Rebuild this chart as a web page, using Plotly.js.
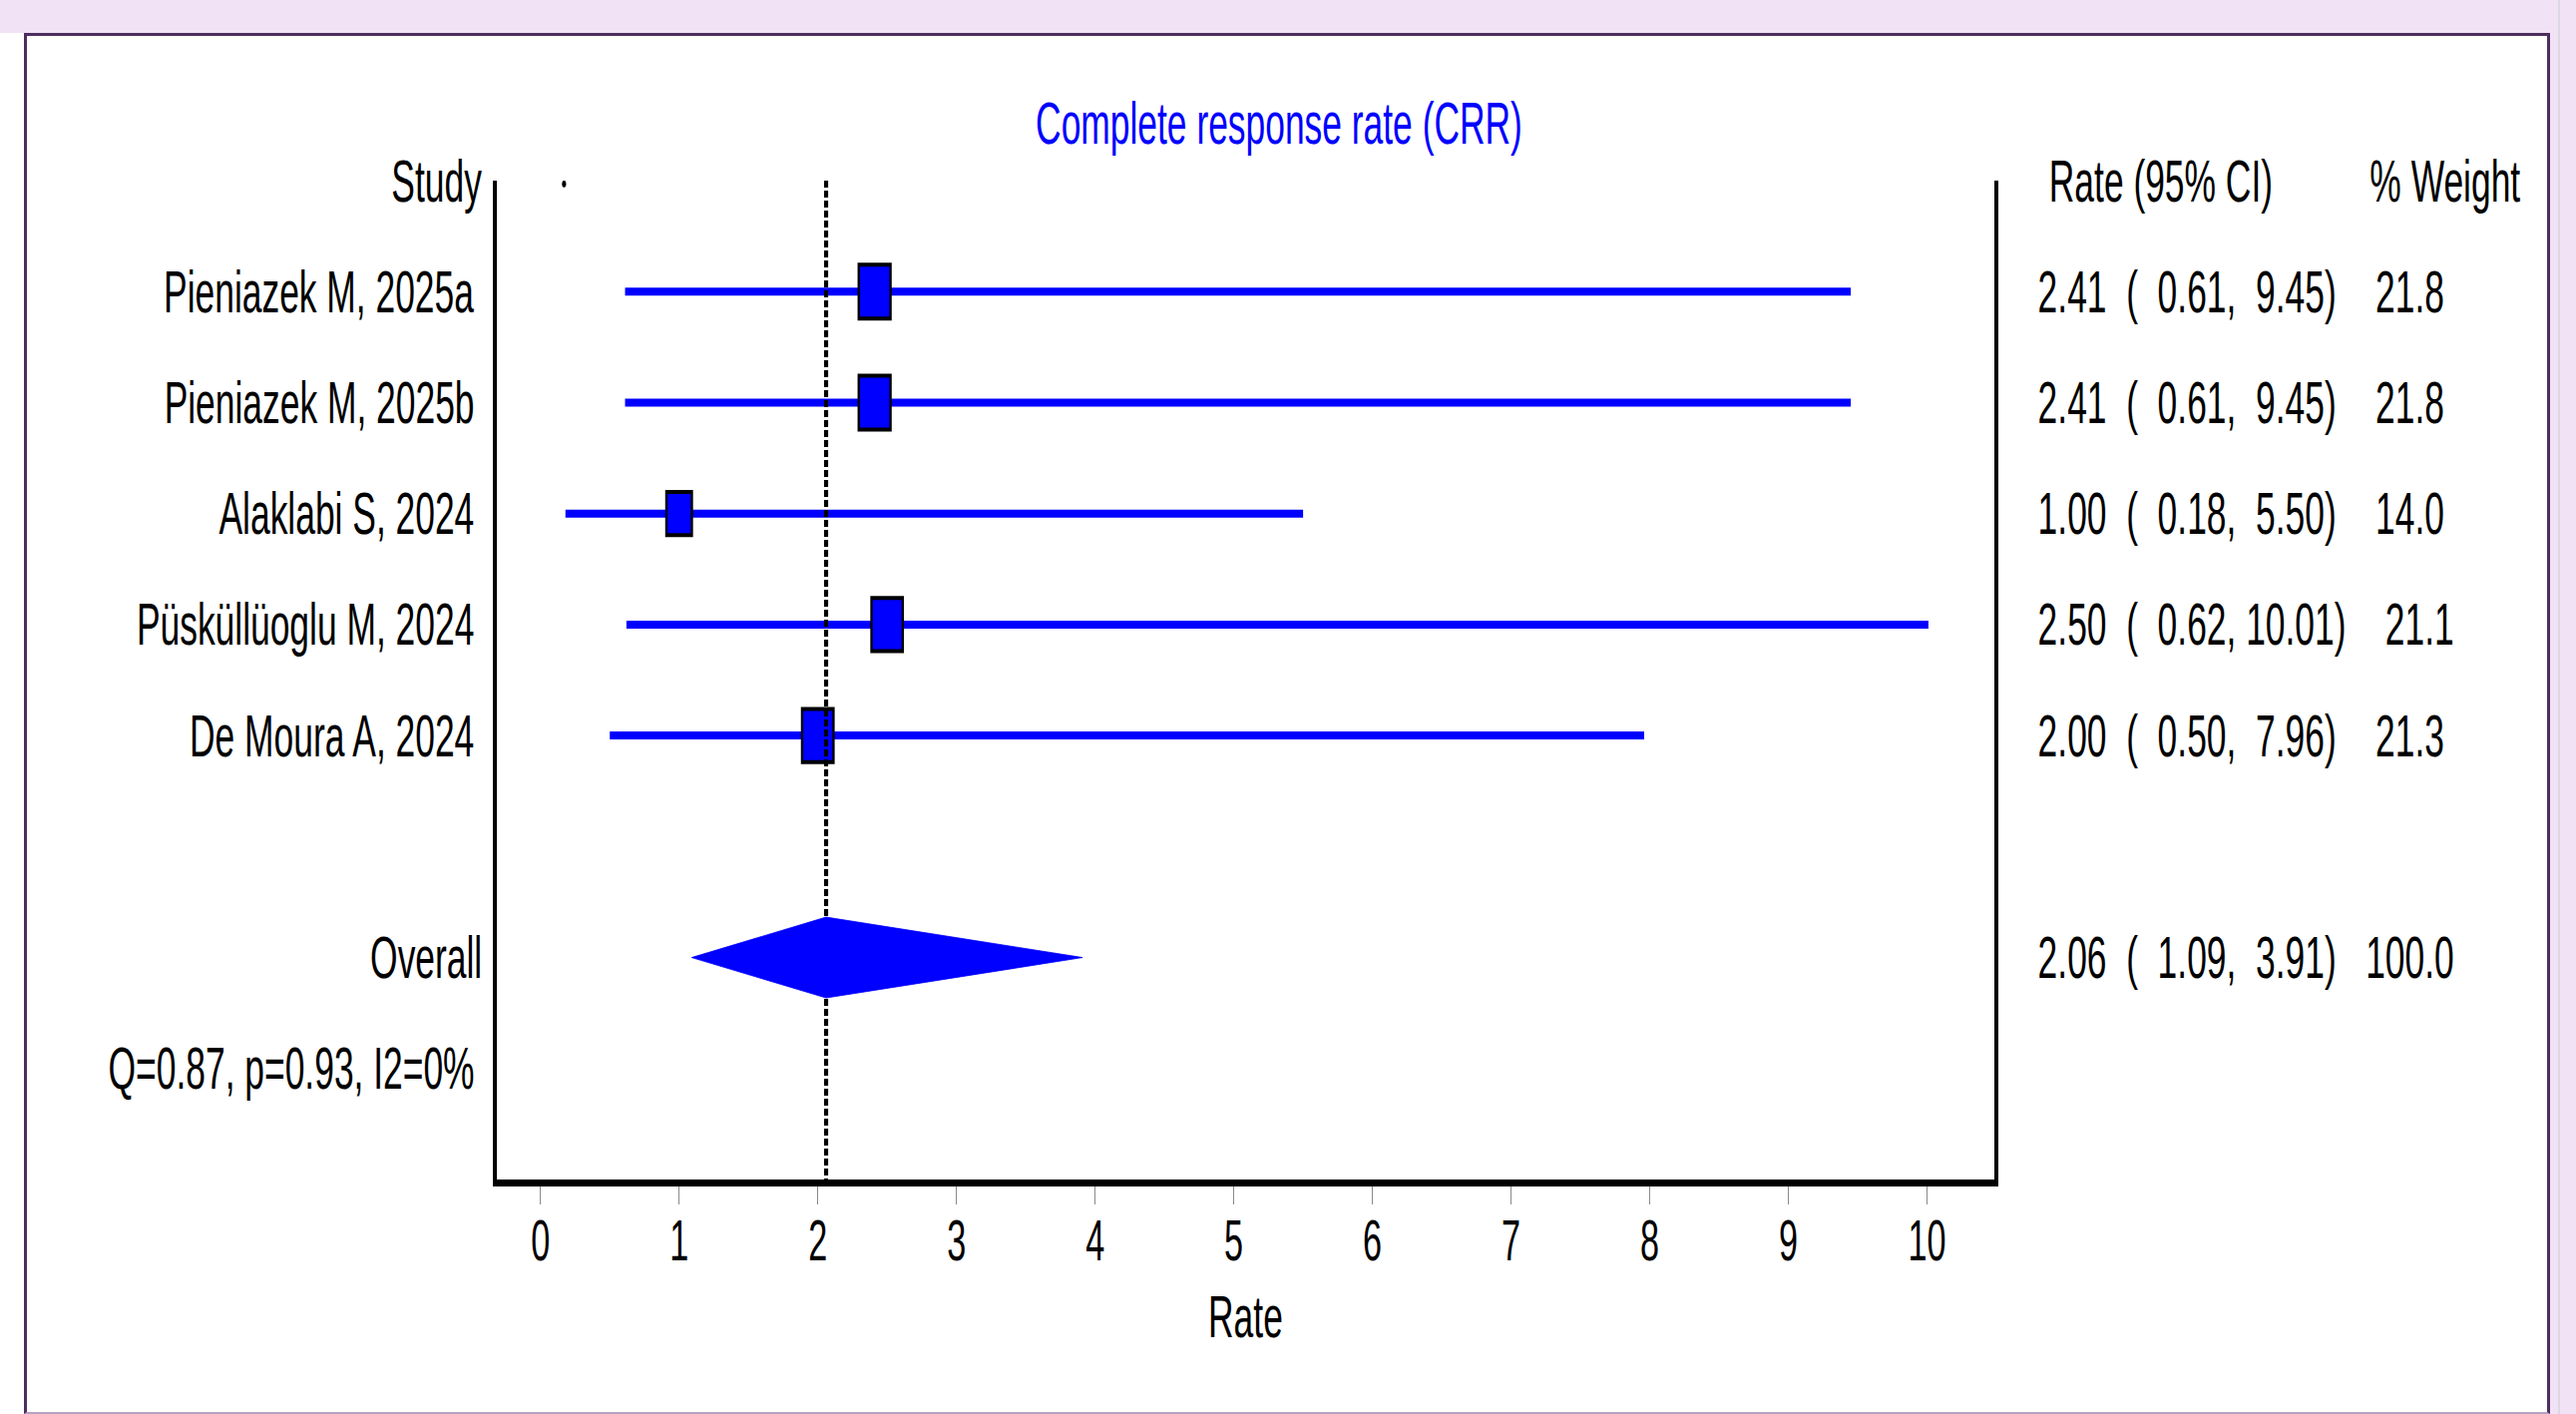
<!DOCTYPE html>
<html>
<head>
<meta charset="utf-8">
<script src="https://cdn.plot.ly/plotly-3.0.1.min.js"></script>
<style>
  html, body { margin:0; padding:0; width:2582px; height:1417px; overflow:hidden; background:#ffffff; }
  #band { position:absolute; left:0; top:0; width:2582px; height:33px; background:#F1E2F5; }
  #strip { position:absolute; left:2556px; top:0; width:26px; height:1417px; background:#F1E2F5; }
  #edge { position:absolute; left:2564px; top:0; width:2px; height:1417px; background:#DCD8E0; }
  #frame { position:absolute; left:24px; top:33px; width:2532px; height:1384px; background:#ffffff;
           border-top:3px solid #4E2E5E; border-left:3px solid #4E2E5E; border-right:3px solid #4E2E5E;
           border-bottom:2px solid #B8A2C4; box-sizing:border-box; }
  #wrap { position:absolute; left:0; top:0; width:2582px; height:1417px; overflow:hidden; }
  #plot { position:absolute; left:0; top:0; transform-origin:0 0; }
</style>
</head>
<body>
<div id="band"></div>
<div id="strip"></div>
<div id="edge"></div>
<div id="frame"></div>
<div id="wrap"><div id="plot"></div></div>
<script>
// ---------------- data ----------------
const studies = ["Pieniazek M, 2025a", "Pieniazek M, 2025b", "Alaklabi S, 2024", "Püsküllüoglu M, 2024", "De Moura A, 2024"];
const rates   = [2.41, 2.41, 1.00, 2.50, 2.00];
const lowerCI = [0.61, 0.61, 0.18, 0.62, 0.50];
const upperCI = [9.45, 9.45, 5.50, 10.01, 7.96];
const weights = [21.8, 21.8, 14.0, 21.1, 21.3];
const overallRate = 2.06, overallLow = 1.09, overallHigh = 3.91, overallWeight = 100.0;
const hetQ = 0.87, hetP = 0.93, hetI2 = 0;
const tickValues = [0, 1, 2, 3, 4, 5, 6, 7, 8, 9, 10];
const tickLabels = ["0", "1", "2", "3", "4", "5", "6", "7", "8", "9", "10"];
const headerDot = [0.17];

// ---------------- layout geometry ----------------
const S = 0.59;                 // horizontal condensation of the whole figure
const W = 2582, H = 1417;
const plotL = 498, plotR = 1999, plotT = 181, plotB = 1182; // final pixels
const xMin = -0.315, xMax = 10.485;
const rowStudy = studies.map((_, i) => i + 1);
const rowOverall = studies.length + 2;
const rowHet = rowOverall + 1;
const rowBottom = rowHet + 1;
const px2paper = p => (p - plotL) / (plotR - plotL);

const FONT = '"Liberation Sans", Arial, Helvetica, sans-serif';
const BLUE = '#0000FF';
const nb = str => str.replace(/ /g, '\u00A0');
const pad5 = v => v.toFixed(2).padStart(5, ' ');
const rowText = (e, l, h, w) => nb(e.toFixed(2) + '  ( ' + pad5(l) + ', ' + pad5(h) + ')   ' + w.toFixed(1).padStart(5, ' '));

// ---------------- traces ----------------
const ciX = [], ciY = [];
studies.forEach((_, i) => { ciX.push(lowerCI[i], upperCI[i], null); ciY.push(rowStudy[i], rowStudy[i], null); });

const traces = [
  { type:'scatter', mode:'lines', x:ciX, y:ciY, line:{color:BLUE, width:8}, hoverinfo:'skip', showlegend:false },
  { type:'scatter', mode:'markers', x:rates, y:rowStudy,
    marker:{symbol:'square', color:BLUE, opacity:1, size:weights.map(w => 54 * Math.sqrt(w / 21.8)), line:{color:'#000000', width:4}},
    hoverinfo:'skip', showlegend:false },
  { type:'scatter', mode:'lines', x:[overallRate, overallRate], y:[0, rowBottom],
    line:{color:'#000000', width:7, dash:'7px,3px'}, hoverinfo:'skip', showlegend:false },
  { type:'scatter', mode:'lines', fill:'toself', fillcolor:BLUE,
    x:[overallLow, overallRate, overallHigh, overallRate, overallLow],
    y:[rowOverall, rowOverall - 0.364, rowOverall, rowOverall + 0.364, rowOverall],
    line:{color:BLUE, width:1}, hoverinfo:'skip', showlegend:false },
  { type:'scatter', mode:'markers', x:headerDot, y:[0.03], marker:{color:'#000000', size:7, opacity:1}, hoverinfo:'skip', showlegend:false }
];

// ---------------- annotations ----------------
const ann = [];
const txt = (text, xp, row, anchor, size) => ann.push({
  text, x: px2paper(xp), y: row, xref:'paper', yref:'y', xanchor:anchor, yanchor:'middle',
  showarrow:false, borderpad:0, font:{family:FONT, size:size || 60, color:'#000000'}
});
txt('Study', 483, 0, 'right');
studies.forEach((s, i) => txt(s, 476, rowStudy[i], 'right'));
txt('Overall', 484, rowOverall, 'right');
txt('Q=' + hetQ.toFixed(2) + ', p=' + hetP.toFixed(2) + ', I2=' + hetI2 + '%', 476, rowHet, 'right');
txt('Rate (95% CI)', 2053, 0, 'left');
txt('% Weight', 2375, 0, 'left');
studies.forEach((_, i) => txt(rowText(rates[i], lowerCI[i], upperCI[i], weights[i]), 2042, rowStudy[i], 'left'));
txt(rowText(overallRate, overallLow, overallHigh, overallWeight), 2042, rowOverall, 'left');

const layout = {
  width: W / S, height: H,
  margin: { l: plotL / S, r: (W - plotR) / S, t: plotT, b: H - plotB, pad: 0 },
  paper_bgcolor: 'rgba(0,0,0,0)', plot_bgcolor: 'rgba(0,0,0,0)',
  showlegend: false,
  title: { text: 'Complete response rate (CRR)', xref:'container', yref:'container',
           x: 1282 / W, y: 1 - 123 / H, xanchor:'center', yanchor:'middle',
           font: { family: FONT, size: 60, color: BLUE } },
  xaxis: {
    range: [xMin, xMax], showgrid:false, zeroline:false,
    showline:true, linecolor:'#000000', linewidth:7,
    ticks:'outside', ticklen:18, tickwidth:2, tickcolor:'#8A8A8A',
    ticklabelstandoff: -14,
    tickvals: tickValues, ticktext: tickLabels,
    tickfont: { family: FONT, size: 58, color:'#000000' },
    title: { text:'Rate', font:{ family: FONT, size: 60, color:'#000000' }, standoff: 27 },
    fixedrange:true
  },
  yaxis: {
    range: [rowBottom, 0], showgrid:false, zeroline:false,
    showline:true, mirror:true, linecolor:'#000000', linewidth:7,
    showticklabels:false, ticks:'', fixedrange:true
  },
  annotations: ann
};

const el = document.getElementById('plot');
el.style.transform = 'scaleX(' + S + ')';
Plotly.newPlot(el, traces, layout, { displayModeBar:false, staticPlot:true });
</script>
</body>
</html>
